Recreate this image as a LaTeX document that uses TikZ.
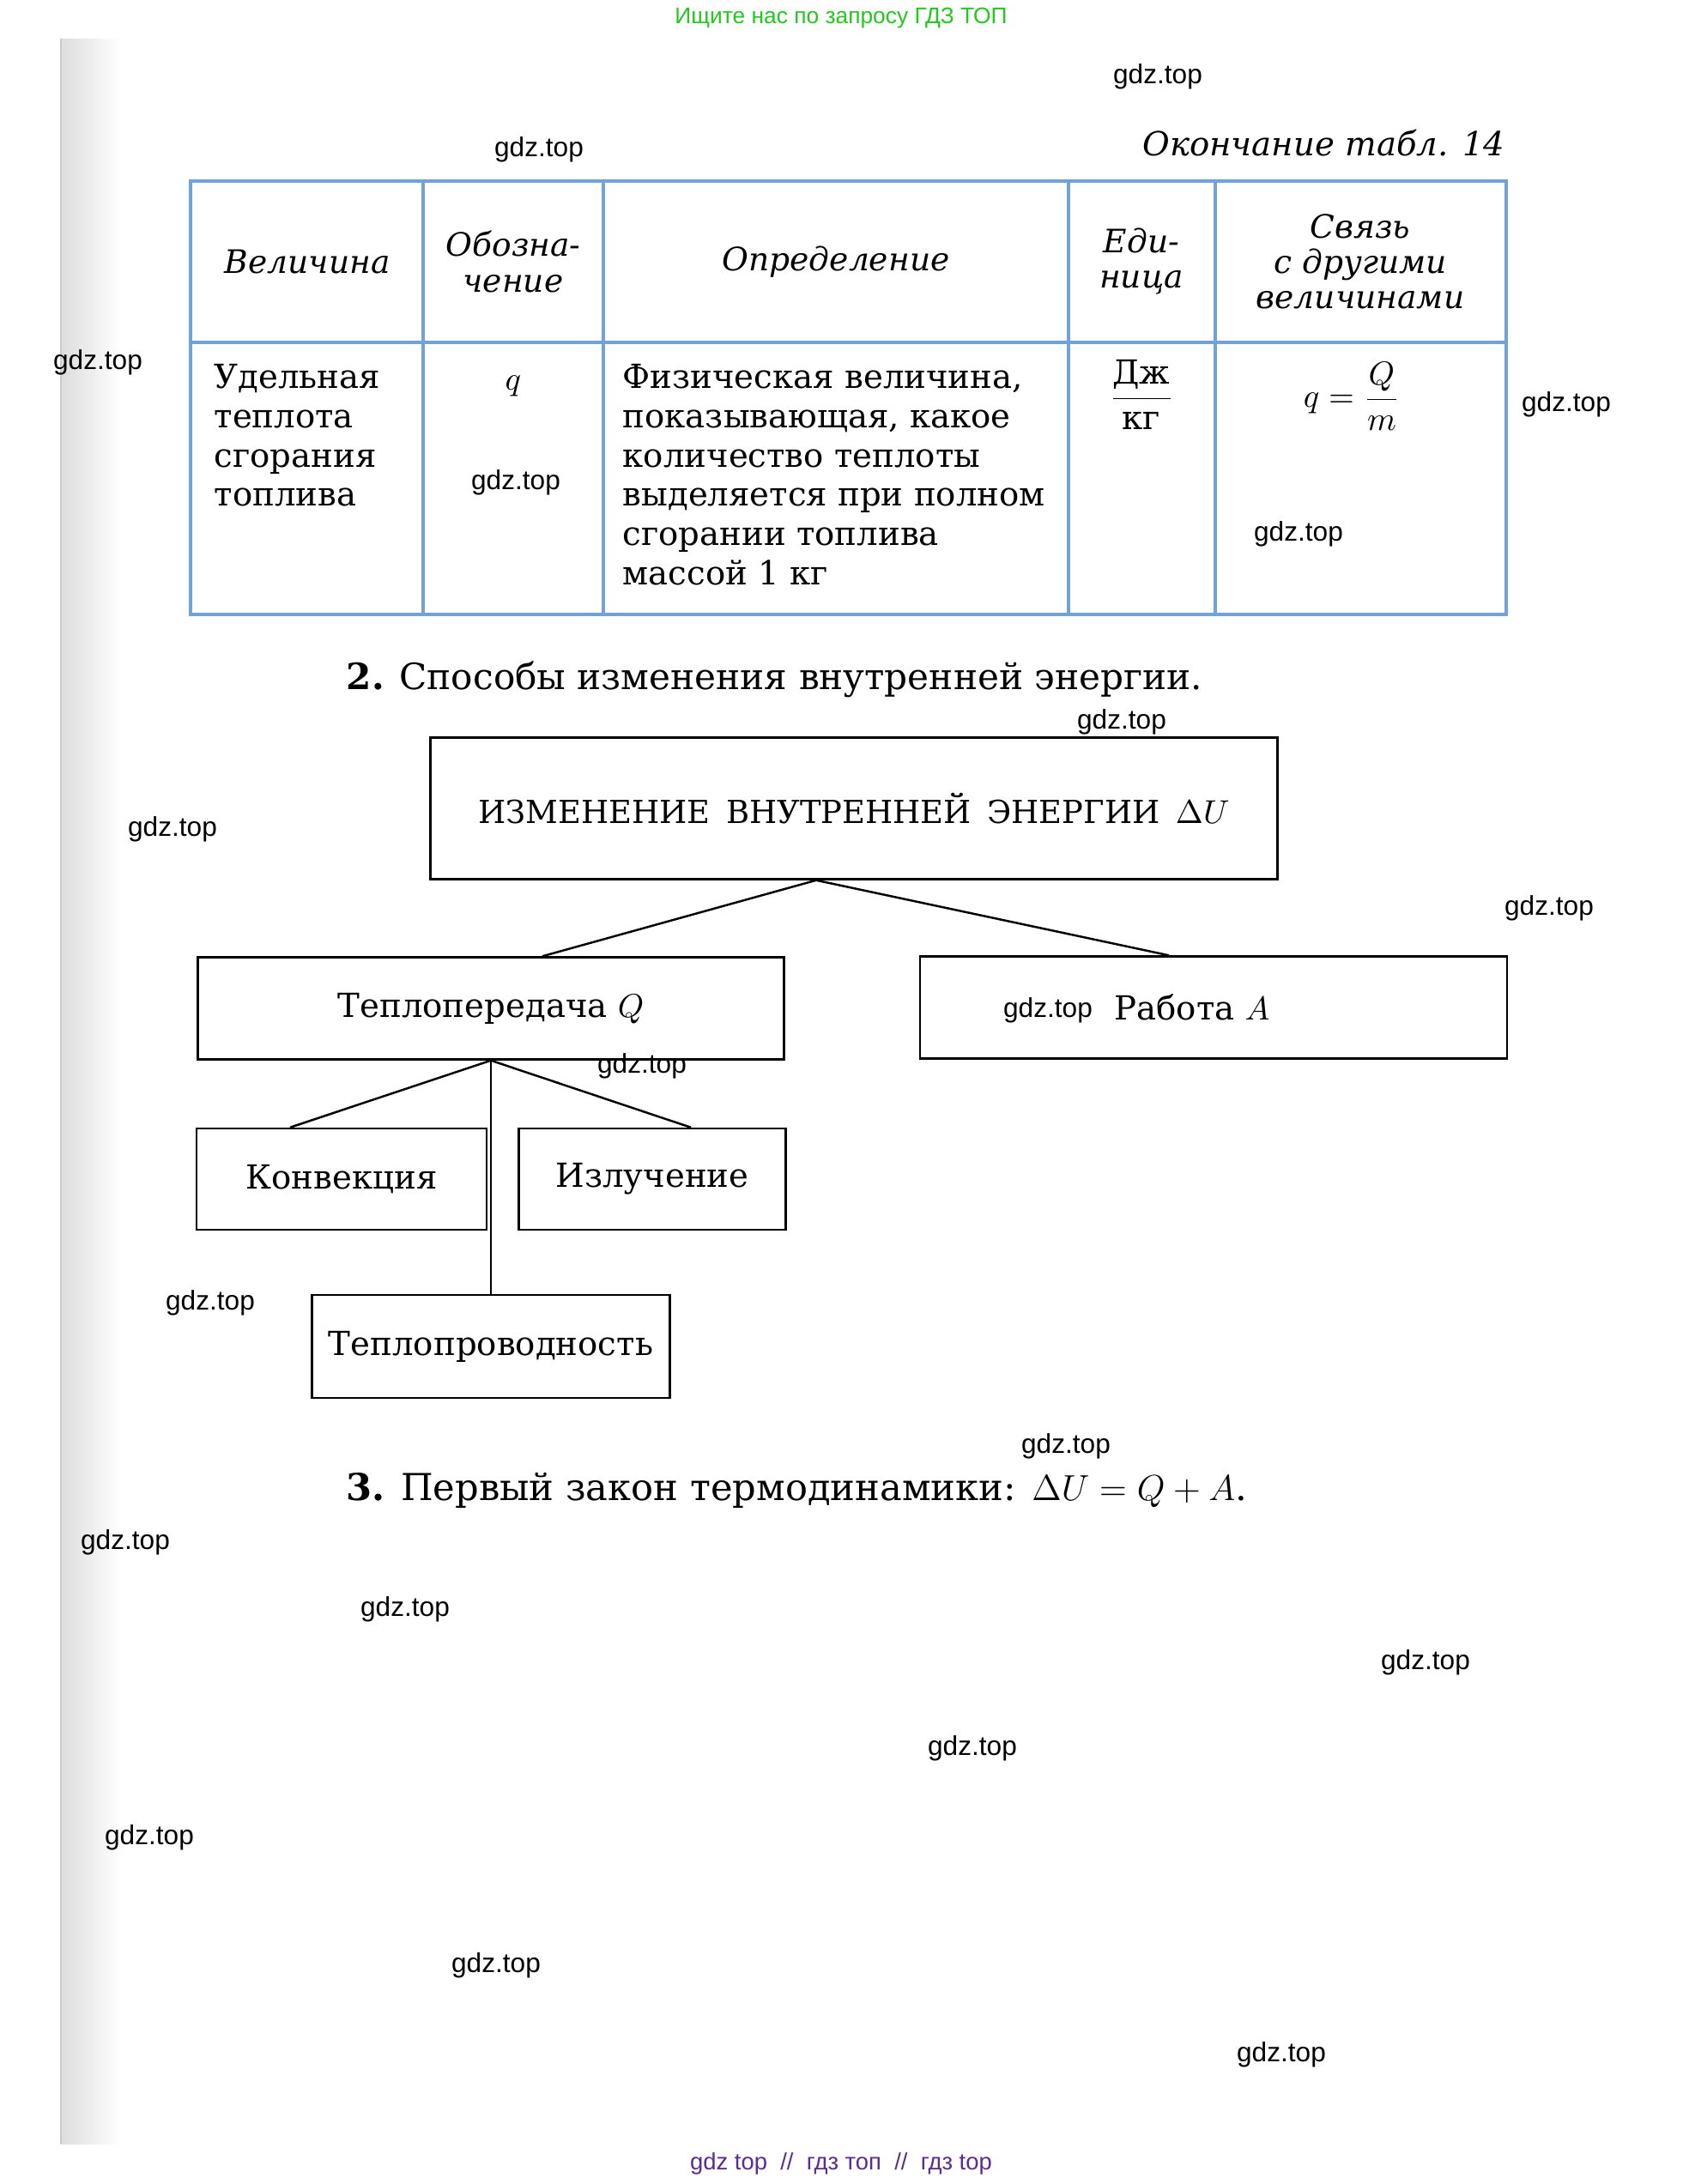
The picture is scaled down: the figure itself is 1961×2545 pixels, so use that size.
\documentclass[tikz,border=0pt]{standalone}
\usepackage{amsmath}
\usepackage{fontspec}
\setmainfont{DejaVu Serif}
\newfontfamily\wmfont{Liberation Sans}
\usetikzlibrary{calc}
\definecolor{gdzgreen}{HTML}{22C81E}
\definecolor{gdzviolet}{HTML}{5A2D91}
\definecolor{tabblue}{HTML}{6FA3DA}
\definecolor{edgegray}{HTML}{DCDCDC}

\begin{document}
\begin{tikzpicture}[x=0.1mm,y=-0.1mm,
    wmark/.style={font=\wmfont\fontsize{9}{10}\selectfont,inner sep=0},
    cell/.style={font=\fontsize{11}{13}\selectfont,inner sep=0},
    hcell/.style={font=\itshape\fontsize{10.7}{11.7}\selectfont,inner sep=0,align=center},
    box/.style={draw=black,line width=0.7pt,inner sep=0,font=\fontsize{11}{13}\selectfont},
    link/.style={line width=0.7pt}]
  \useasboundingbox (0,0) rectangle (1961,2545);
  \fill[white] (0,0) rectangle (1961,2545);
  % scanned page edge
  \shade[left color=edgegray,right color=white] (70,45) rectangle (140,2498);
  \draw[gray!40,line width=0.4pt] (71,45) -- (71,2498);

  % site banners
  \node[font=\wmfont\fontsize{7.5}{9}\selectfont,text=gdzgreen,inner sep=0] (banner) at (980,21) {Ищите нас по запросу ГДЗ ТОП};
  \node[font=\wmfont\fontsize{7.8}{9}\selectfont,text=gdzviolet,inner sep=0] (footer) at (980,2521) {gdz top \ // \ гдз топ \ // \ гдз top};

  % table 14 (end)
  \node[font=\itshape\fontsize{11}{13}\selectfont,inner sep=0,anchor=base east] (caption) at (1754,181) {Окончание табл. 14};
  \draw[tabblue,line width=0.9pt] (222,211) rectangle (1755,716);
  \draw[tabblue,line width=0.9pt] (222,399) -- (1755,399);
  \draw[tabblue,line width=0.9pt] (493,211) -- (493,716);
  \draw[tabblue,line width=0.9pt] (703,211) -- (703,716);
  \draw[tabblue,line width=0.9pt] (1245,211) -- (1245,716);
  \draw[tabblue,line width=0.9pt] (1416,211) -- (1416,716);

  \node[hcell] (hqty) at (358,305) {Величина};
  \node[hcell] (hsym) at (598,305) {Обозна-\\чение};
  \node[hcell] (hdef) at (974,305) {Определение};
  \node[hcell] (hunit) at (1330,305) {Еди-\\ница};
  \node[hcell] (hrel) at (1585,305) {Связь\\с другими\\величинами};

  \node[cell,anchor=north west,align=left] (qty) at (249,424) {Удельная\\теплота\\сгорания\\топлива};
  \node[cell,anchor=base] (sym) at (598,454) {$q$};
  \node[cell,anchor=north west,align=left] (def) at (725,424) {Физическая величина,\\показывающая, какое\\количество теплоты\\выделяется при полном\\сгорании топлива\\массой 1 кг};
  \node[cell] (unit) at (1330,460) {$\dfrac{\text{Дж}}{\text{кг}}$};
  \node[cell] (rel) at (1575,462) {$q=\dfrac{Q}{m}$};

  % section 2
  \node[font=\fontsize{12}{14}\selectfont,inner sep=0,anchor=base west] (sec2) at (403,803) {\textbf{2.} Способы изменения внутренней энергии.};

  \node[box,minimum width=98.7mm,minimum height=16.5mm,font=\fontsize{10.5}{13}\selectfont] (change) at (995,942) {ИЗМЕНЕНИЕ\enspace ВНУТРЕННЕЙ\enspace ЭНЕРГИИ\enspace $\Delta U$};
  \node[box,minimum width=68.3mm,minimum height=11.9mm] (heat) at (572,1175) {Теплопередача $Q$};
  \node[box,minimum width=68.4mm,minimum height=11.9mm] (work) at (1414,1174) {Работа $A$\hspace*{5mm}};
  \node[box,minimum width=33.8mm,minimum height=11.8mm] (conv) at (398,1374) {Конвекция};
  \node[box,minimum width=31.1mm,minimum height=11.8mm] (rad) at (760,1374) {Излучение};
  \node[box,minimum width=41.7mm,minimum height=12mm] (cond) at (572,1569) {Теплопроводность};

  \coordinate (split) at ($(change.south)+(-44,0)$);
  \draw[link] (split) -- ($(heat.north)+(60,0)$);
  \draw[link] (split) -- ($(work.north)+(-52,0)$);
  \draw[link] (heat.south) -- ($(conv.north)+(-60,0)$);
  \draw[link] (heat.south) -- ($(rad.north)+(45,0)$);
  \draw[link] (heat.south) -- (cond.north);

  % section 3
  \node[font=\fontsize{12.3}{14}\selectfont,inner sep=0,anchor=base west] (sec3) at (403,1748) {\textbf{3.} Первый закон термодинамики: $\Delta U=Q+A$.};

  % watermarks
  \node[wmark] (wm1) at (1349,89) {gdz.top};
  \node[wmark] (wm2) at (628,174) {gdz.top};
  \node[wmark] (wm3) at (114,422) {gdz.top};
  \node[wmark] (wm4) at (1825,471) {gdz.top};
  \node[wmark] (wm5) at (601,562) {gdz.top};
  \node[wmark] (wm6) at (1513,622) {gdz.top};
  \node[wmark] (wm7) at (1307,841) {gdz.top};
  \node[wmark] (wm8) at (201,966) {gdz.top};
  \node[wmark] (wm9) at (1805,1058) {gdz.top};
  \node[wmark] (wm10) at (1221,1177) {gdz.top};
  \node[wmark] (wm11) at (748,1242) {gdz.top};
  \node[wmark] (wm12) at (245,1518) {gdz.top};
  \node[wmark] (wm13) at (1242,1685) {gdz.top};
  \node[wmark] (wm14) at (146,1797) {gdz.top};
  \node[wmark] (wm15) at (472,1875) {gdz.top};
  \node[wmark] (wm16) at (1661,1937) {gdz.top};
  \node[wmark] (wm17) at (1133,2037) {gdz.top};
  \node[wmark] (wm18) at (174,2141) {gdz.top};
  \node[wmark] (wm19) at (578,2290) {gdz.top};
  \node[wmark] (wm20) at (1493,2394) {gdz.top};
\end{tikzpicture}
\end{document}
